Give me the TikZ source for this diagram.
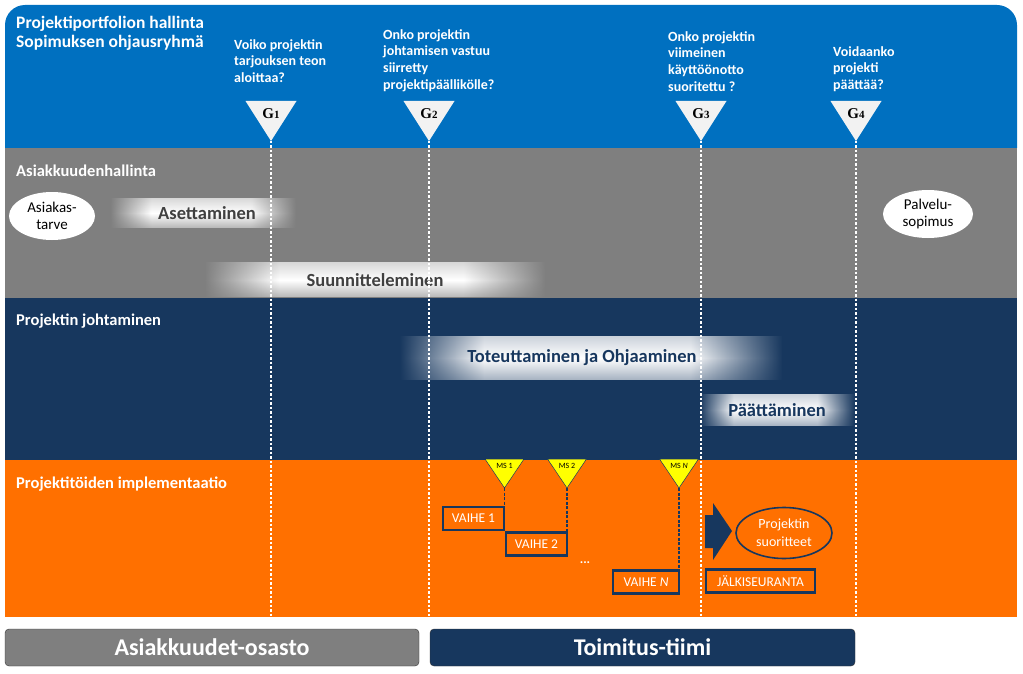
\documentclass[tikz,border=0pt]{standalone}
\usepackage{fontspec}
\setmainfont{Carlito}
\newfontfamily\gatefont{Liberation Serif}
\usepackage{xcolor}
\usetikzlibrary{shapes.geometric, fadings, positioning}

\definecolor{portblue}{RGB}{0,112,192}
\definecolor{bandgray}{RGB}{127,127,127}
\definecolor{navy}{RGB}{23,55,94}
\definecolor{implorange}{RGB}{255,112,0}
\definecolor{gatefill}{RGB}{242,242,242}
\definecolor{msyellow}{RGB}{255,255,0}
\definecolor{bartext}{RGB}{64,64,64}

\pgfdeclarehorizontalshading{barsides}{100bp}{color(0bp)=(black); color(25bp)=(black); color(36bp)=(white); color(63bp)=(white); color(75bp)=(black); color(100bp)=(black)}
\pgfdeclarefading{bar sides}{\pgfuseshading{barsides}}

\begin{document}
\begin{tikzpicture}[x=1pt, y=-1pt,
  lane/.style={font=\fontsize{16.5}{19}\selectfont\bfseries, text=white, anchor=west, inner sep=0},
  quest/.style={font=\fontsize{14}{16.7}\selectfont\bfseries, text=white, align=left, anchor=north west, inner sep=0},
  bar/.style={top color=white!85!black, bottom color=white!72!black, middle color=white, path fading=bar sides,
              text=bartext, font=\fontsize{18.5}{22}\selectfont\bfseries, inner sep=0},
  navybar/.style={bar, top color=navy!22!white, bottom color=navy!38!white, middle color=white, text=navy},
  bubble/.style={ellipse, fill=white, inner sep=0, align=center, font=\fontsize{15}{17}\selectfont},
  phase/.style={draw=navy, line width=2.2pt, fill=implorange, text=white, font=\fontsize{13.5}{15}\selectfont,
                inner sep=0, minimum height=23},
  team/.style={draw=black!80, rounded corners=4pt, minimum height=37, text=white,
               font=\fontsize{24}{28}\selectfont\bfseries},
  gateline/.style={white, line width=2pt, dash pattern=on 2.5pt off 2pt},
  msline/.style={navy, line width=1.6pt, dash pattern=on 3pt off 1.5pt},
  gate/.pic={
    \fill[gatefill] (-25.5,0) -- (25.5,0) -- (0,40) -- cycle;
    \node[font=\gatefont\bfseries\fontsize{15}{15}\selectfont, inner sep=0] (-lbl) at (0,13) {G{\fontsize{11}{11}\selectfont#1}};
    \coordinate (-tip) at (0,40);
  },
  ms/.pic={
    \filldraw[fill=msyellow, draw=navy, line width=0.5pt] (-19.5,0) -- (19.5,0) -- (0,29) -- cycle;
    \node[font=\fontsize{8}{8}\selectfont, inner sep=0] (-lbl) at (0,7) {#1};
    \coordinate (-tip) at (0,29);
  },
]
  \useasboundingbox (0,0) rectangle (1023,674);

  \fill[portblue] (5,148) [rounded corners=20pt] -- (5,5) -- (1017,5) [sharp corners] -- (1017,148) -- cycle;
  \fill[bandgray] (5,148) rectangle (1017,298);
  \fill[navy] (5,298) rectangle (1017,460);
  \fill[implorange] (5,460) rectangle (1017,617);
  \coordinate (base) at (0,617);

  \node[quest, font=\fontsize{17.5}{18.5}\selectfont\bfseries] (title) at (16,16) {Projektiportfolion hallinta\\Sopimuksen ohjausryhmä};
  \node[quest] (q1) at (234,39) {Voiko projektin\\tarjouksen teon\\aloittaa?};
  \node[quest] (q2) at (383,29) {Onko projektin\\johtamisen vastuu\\siirretty\\projektipäällikölle?};
  \node[quest] (q3) at (668,31) {Onko projektin\\viimeinen\\käyttöönotto\\suoritettu ?};
  \node[quest] (q4) at (833,46) {Voidaanko\\projekti\\päättää?};

  \node[lane] (asiak) at (16,171) {Asiakkuudenhallinta};
  \node[lane] (johto) at (16,321) {Projektin johtaminen};
  \node[lane] (impl) at (16,484) {Projektitöiden implementaatio};

  \node[bar, minimum width=185, minimum height=29] (aset) at (203,213) {\hspace*{8pt}Asettaminen};
  \node[bar, minimum width=340, minimum height=34] (suun) at (375,280) {Suunnitteleminen};
  \node[navybar, minimum width=382, minimum height=43] (tote) at (591,358) {\hspace*{-18pt}Toteuttaminen ja Ohjaaminen};
  \node[navybar, minimum width=155, minimum height=31] (paat) at (777,410) {Päättäminen};

  \node[bubble, minimum width=86, minimum height=48] (tarve) at (52,216) {Asiakas-\\tarve};
  \node[bubble, minimum width=90, minimum height=48] (palv) at (928,214) {Palvelu-\\sopimus};

  \pic (g1) at (271,101) {gate=1};
  \pic (g2) at (429,101) {gate=2};
  \pic (g3) at (701,101) {gate=3};
  \pic (g4) at (856,101) {gate=4};
  \foreach \g in {g1,g2,g3,g4}
    \draw[gateline] (\g-tip) -- (\g-tip |- base);

  \pic (ms1) at (504.5,459) {ms={MS 1}};
  \pic (ms2) at (567,459) {ms={MS 2}};
  \pic (msN) at (679,459) {ms={MS \textit{N}}};

  \node[phase, minimum width=61] (vaihe1) at (473.5,518.5) {VAIHE 1};
  \node[phase, minimum width=61] (vaihe2) at (536.5,544) {VAIHE 2};
  \node[phase, minimum width=66] (vaiheN) at (646,582) {VAIHE \textit{N}};
  \node[text=white, font=\fontsize{13}{13}\selectfont\bfseries, inner sep=0] (dots) at (585,563) {...};
  \node[phase, minimum width=109] (jalki) at (760.5,581) {JÄLKISEURANTA};
  \node[ellipse, draw=navy, line width=1.6pt, fill=implorange, text=white, align=center,
        minimum width=96, minimum height=51, inner sep=0, font=\fontsize{14}{18}\selectfont] (suor) at (784,533) {Projektin\\suoritteet};
  \fill[navy] (705,515) -- (713,515) -- (713,503) -- (732,531) -- (713,560) -- (713,548) -- (705,548) -- cycle;

  \draw[msline] (ms1-tip) -- (ms1-tip |- vaihe1.north);
  \draw[msline] (ms2-tip) -- (ms2-tip |- vaihe2.north);
  \draw[msline] (msN-tip) -- (msN-tip |- vaiheN.north);

  \node[team, fill=bandgray, minimum width=414] (osasto) at (212,647.5) {Asiakkuudet-osasto};
  \node[team, fill=navy, minimum width=425] (tiimi) at (642.5,647.5) {Toimitus-tiimi};
\end{tikzpicture}
\end{document}
